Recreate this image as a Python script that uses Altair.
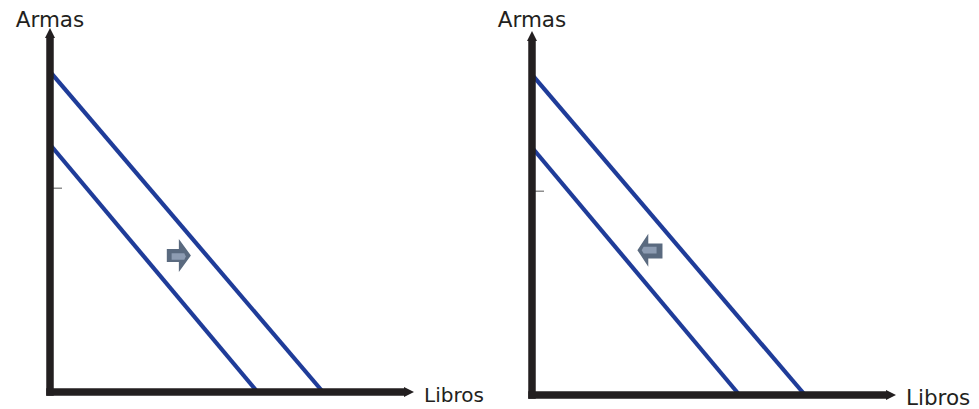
import altair as alt
import pandas as pd

# ---------------- data ----------------
curve_names = ["exterior", "interior"]     # the two production frontiers
armas_max = [88, 68]                       # intercepts on the Armas axis
libros_max = [75, 57]                      # intercepts on the Libros axis
axis_length = 100                          # length of both axes (units)
tick_values = [56]                         # small tick on the Armas axis
axis_labels = ["Armas", "Libros"]
shift_direction = ["derecha", "izquierda"] # arrow direction in each panel
icon_x = [35.4, 32.4]
icon_y = [37.5, 39.8]

# ---------------- style / layout ----------------
PX = 3.64                    # pixels per unit
W, H = 963, 401              # whole drawing
ORIGIN = (42, 384)           # left panel origin, px from top-left
PANEL_DX = [0, 482 / PX]     # horizontal placement of each panel (units)
PANEL_DY = [0, -3 / PX]      # vertical placement of each panel (units)
AXIS_W = 7.5
HEAD = 10
BLUE = "#1f3c99"
INK = "#231f20"
FONT = "DejaVu Sans"
ARMAS_SIZE = [21.5, 21.5]
ARMAS_DY = [-1.5, -4]
LIBROS_SIZE = [20, 21.5]

ARROW_SHAPES = {
    "derecha": ("M-0.73,-0.39L0,-0.39L0,-1L0.73,0L0,1L0,0.39L-0.73,0.39Z",
                "M-0.44,-0.14L0.33,-0.14L0.42,0.06L0.33,0.26L-0.44,0.26Z"),
    "izquierda": ("M0.76,-0.4L-0.1,-0.4L-0.1,-1L-0.76,0L-0.1,1L-0.1,0.5L0.76,0.5Z",
                  "M0.4,-0.2L-0.38,-0.2L-0.5,0L-0.38,0.2L0.4,0.2Z"),
}

xs = alt.Scale(domain=[-ORIGIN[0] / PX, (W - ORIGIN[0]) / PX], nice=False, zero=False)
ys = alt.Scale(domain=[-(H - ORIGIN[1]) / PX, ORIGIN[1] / PX], nice=False, zero=False)


def X(f):
    return alt.X(f, type="quantitative", scale=xs, axis=None)


def Y(f):
    return alt.Y(f, type="quantitative", scale=ys, axis=None)


layers = []
for i in range(2):
    dx, dy = PANEL_DX[i], PANEL_DY[i]

    rows = []
    for name, a, l in zip(curve_names, armas_max, libros_max):
        rows.append({"curva": name, "libros": 0 + dx, "armas": a + dy, "o": 0})
        rows.append({"curva": name, "libros": l + dx, "armas": 0 + dy, "o": 1})
    layers.append(alt.Chart(pd.DataFrame(rows)).mark_line(
        color=BLUE, strokeWidth=4.2, strokeCap="butt"
    ).encode(x=X("libros"), y=Y("armas"), detail="curva:N", order="o:Q"))

    layers.append(alt.Chart(pd.DataFrame({
        "v": [t + dy for t in tick_values],
        "x0": [dx] * len(tick_values),
        "x1": [dx + 12 / PX] * len(tick_values)})).mark_rule(
        color="#555555", strokeWidth=1
    ).encode(x=X("x0"), x2="x1:Q", y=Y("v")))

    hw = AXIS_W / 2 / PX
    end = axis_length - (HEAD * 0.8) / PX
    axes_df = pd.DataFrame({
        "x0": [dx, dx - hw], "x1": [dx, dx + end],
        "y0": [dy - hw, dy], "y1": [dy + end, dy],
    })
    layers.append(alt.Chart(axes_df).mark_rule(
        color=INK, strokeWidth=AXIS_W, strokeCap="butt"
    ).encode(x=X("x0"), x2="x1:Q", y=Y("y0"), y2="y1:Q"))

    layers.append(alt.Chart(pd.DataFrame({"x": [dx], "y": [dy + axis_length]})).mark_point(
        shape="M-1,1L0,-1L1,1Z", filled=True, size=HEAD ** 2, color=INK,
        opacity=1, strokeWidth=0, yOffset=HEAD / 2
    ).encode(x=X("x"), y=Y("y")))
    layers.append(alt.Chart(pd.DataFrame({"x": [dx + axis_length], "y": [dy]})).mark_point(
        shape="M-1,-1L1,0L-1,1Z", filled=True, size=HEAD ** 2, color=INK,
        opacity=1, strokeWidth=0, xOffset=-HEAD / 2
    ).encode(x=X("x"), y=Y("y")))

    outer, inner = ARROW_SHAPES[shift_direction[i]]
    icon_df = pd.DataFrame({"x": [icon_x[i] + dx], "y": [icon_y[i] + dy]})
    layers.append(alt.Chart(icon_df).mark_point(
        shape=outer, filled=True, size=33 ** 2, color="#5a6a7f", opacity=1, strokeWidth=0
    ).encode(x=X("x"), y=Y("y")))
    layers.append(alt.Chart(icon_df).mark_point(
        shape=inner, filled=True, size=33 ** 2, color="#8d9cb2", opacity=1, strokeWidth=0
    ).encode(x=X("x"), y=Y("y")))

    layers.append(alt.Chart(pd.DataFrame({"x": [dx], "y": [dy + axis_length],
                                          "t": [axis_labels[0]]})).mark_text(
        font=FONT, fontSize=ARMAS_SIZE[i], color=INK, align="center", baseline="alphabetic",
        dy=ARMAS_DY[i]
    ).encode(x=X("x"), y=Y("y"), text="t:N"))
    layers.append(alt.Chart(pd.DataFrame({"x": [dx + axis_length], "y": [dy],
                                          "t": [axis_labels[1]]})).mark_text(
        font=FONT, fontSize=LIBROS_SIZE[i], color=INK, align="left", baseline="alphabetic", dx=10, dy=10
    ).encode(x=X("x"), y=Y("y"), text="t:N"))

chart = alt.layer(*layers).properties(
    width=W, height=H, padding=0,
    autosize=alt.AutoSizeParams(type="none"), background="white"
).configure_view(stroke=None)

chart.save("out.html", embed_options={"renderer": "svg", "actions": False})
